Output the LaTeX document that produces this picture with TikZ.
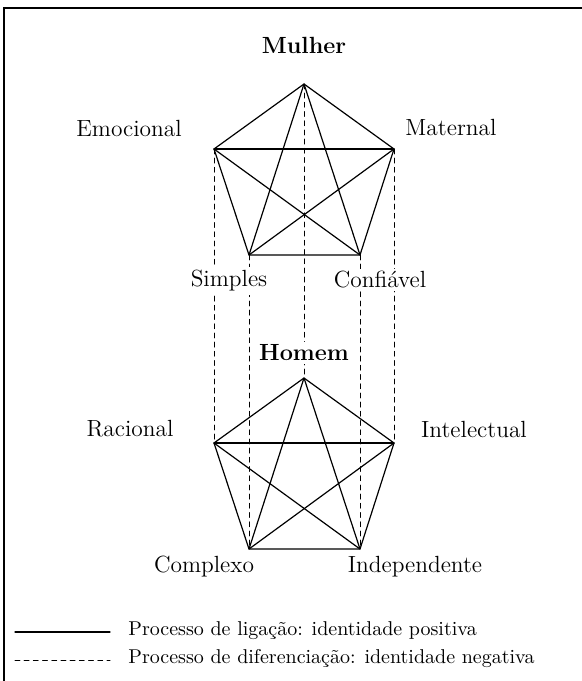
\documentclass[tikz,border=0pt]{standalone}
\usepackage{tkz-euclide}
\usepackage{tikz}
\usepackage{amsmath}

\begin{document}
\begin{tikzpicture}[x=0.5pt,y=-0.5pt,
    rotulo/.style={fill=white,inner sep=1.5pt,font=\fontsize{11.7}{14}\selectfont},
    titulo/.style={rotulo,font=\fontsize{11.7}{14}\selectfont\bfseries},
    legenda/.style={anchor=west,inner sep=0pt,font=\fontsize{10}{12}\selectfont},
    traco/.style={line width=0.6pt},
    tracejado/.style={line width=0.5pt,dash pattern=on 2.4pt off 2.2pt}]
    %initialisation
    \useasboundingbox (0,0) rectangle (582,681);
    \draw[line width=0.8pt] (4,681) -- (4,8) -- (582,8);
    %definitions
    \tkzDefPoint(304,84){Mt}
    \tkzDefPoint(214,149){Em}
    \tkzDefPoint(394,149){Mn}
    \tkzDefPoint(249,255){Si}
    \tkzDefPoint(360,255){Co}
    \tkzDefPoint(304,378){Ht}
    \tkzDefPoint(214,443){Ra}
    \tkzDefPoint(394,443){In}
    \tkzDefPoint(249,549){Cx}
    \tkzDefPoint(360,549){Id}
    \tkzDefPoint(15,632){La}
    \tkzDefPoint(110,632){Lb}
    \tkzDefPoint(15,660){Lc}
    \tkzDefPoint(110,660){Ld}
    %drawing
    \tkzDrawSegments[tracejado](Em,Ra Si,Cx Mt,Ht Co,Id Mn,In)
    \tkzDrawPolygon[traco](Mt,Mn,Co,Si,Em)
    \tkzDrawSegments[traco](Mt,Si Mt,Co Em,Mn Em,Co Mn,Si)
    \tkzDrawPolygon[traco](Ht,In,Id,Cx,Ra)
    \tkzDrawSegments[traco](Ht,Cx Ht,Id Ra,In Ra,Id In,Cx)
    %label
    \node[titulo]  (mulher) at (304,45)  {Mulher};
    \node[rotulo]  (emoc)   at (129,128) {Emocional};
    \node[rotulo]  (mater)  at (451,127) {Maternal};
    \node[rotulo]  (simp)   at (229,281) {Simples};
    \node[rotulo]  (conf)   at (380,280) {Confiável};
    \node[titulo]  (homem)  at (304,353) {Homem};
    \node[rotulo]  (racio)  at (130,429) {Racional};
    \node[rotulo]  (intel)  at (474,429) {Intelectual};
    \node[rotulo]  (compl)  at (204,567) {Complexo};
    \node[rotulo]  (indep)  at (415,567) {Independente};
    %legend
    \tkzDrawSegments[traco](La,Lb)
    \tkzDrawSegments[tracejado](Lc,Ld)
    \node[legenda] (ligacao) at (128,631) {Processo de ligação: identidade positiva};
    \node[legenda] (difer)   at (128,659) {Processo de diferenciação: identidade negativa};
\end{tikzpicture}
\end{document}
